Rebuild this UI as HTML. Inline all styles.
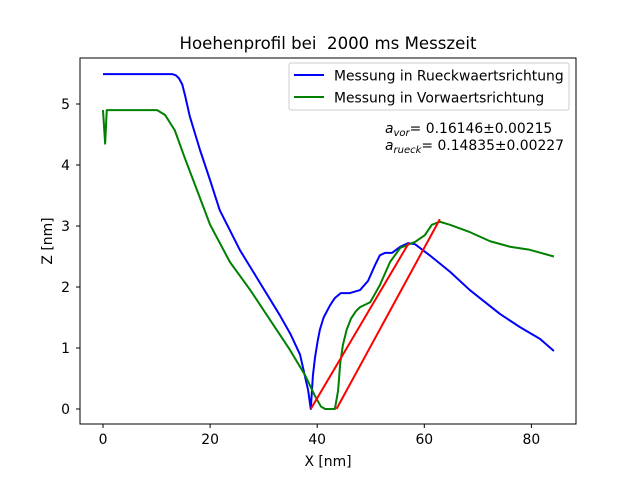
<!DOCTYPE html>
<html><head><meta charset="utf-8"><style>
body{margin:0;background:#fff;}
svg text{font-family:"DejaVu Sans","Liberation Sans",sans-serif;fill:#000;}
</style></head><body>
<svg id="chart" width="640" height="478" xmlns="http://www.w3.org/2000/svg">
<rect width="640" height="478" fill="#fff"/>
<text x="328" y="49" font-size="16.6" text-anchor="middle" xml:space="preserve">Hoehenprofil bei  2000 ms Messzeit</text>
<g id="plot"></g>
<rect x="80" y="58" width="496" height="366" fill="none" stroke="#000" stroke-width="1"/>
<g id="ticks"></g>
<text x="328" y="466" font-size="13.9" text-anchor="middle">X [nm]</text>
<text x="52" y="241" font-size="13.9" text-anchor="middle" transform="rotate(-90 52 241)">Z [nm]</text>
<g>
<rect x="289" y="63" width="280" height="47" rx="2" fill="#fff" fill-opacity="0.8" stroke="#ccc"/>
<line x1="294" y1="75" x2="324" y2="75" stroke="#0000ff" stroke-width="2"/>
<text x="334" y="80.5" font-size="13.9">Messung in Rueckwaertsrichtung</text>
<line x1="294" y1="97" x2="324" y2="97" stroke="#008000" stroke-width="2"/>
<text x="334" y="102.5" font-size="13.9">Messung in Vorwaertsrichtung</text>
</g>
<text x="385" y="133" font-size="13.9"><tspan font-style="italic">a</tspan><tspan font-style="italic" font-size="10" dy="3">vor</tspan><tspan dy="-3">= 0.16146±0.00215</tspan></text>
<text x="385" y="150" font-size="13.9"><tspan font-style="italic">a</tspan><tspan font-style="italic" font-size="10" dy="3">rueck</tspan><tspan dy="-3">= 0.14835±0.00227</tspan></text>
</svg>
<script>
const xTicks=[0,20,40,60,80];
const yTicks=[0,1,2,3,4,5];
const rueckX=[0,12.9,13.6,14.2,14.8,15.3,16.2,18.1,20,21.8,25.6,29.3,33,35,36.8,38.3,38.8,39.2,39.6,40.1,40.5,41.2,42.4,43.3,44.4,46.1,48,49.5,50.8,51.7,52.7,54,55.5,57,58.3,61,64.8,68.5,74.1,77.9,81.6,84.2];
const rueckZ=[5.49,5.49,5.47,5.42,5.32,5.15,4.8,4.25,3.75,3.26,2.6,2.07,1.54,1.23,0.89,0.31,0,0.55,0.85,1.12,1.3,1.5,1.7,1.82,1.9,1.9,1.95,2.1,2.36,2.52,2.56,2.56,2.66,2.72,2.7,2.52,2.25,1.95,1.56,1.34,1.15,0.95];
const vorX=[0,0.4,0.7,10.1,11.6,13.4,15.3,17.2,20,23.7,27.5,31.2,34.9,37.7,39.6,40.7,41.5,43.3,43.9,44.3,44.8,45.5,46.3,47.2,48,49.9,51.7,53.6,55.5,58.3,60.1,61.4,62.9,64.8,68.5,72.3,76,79.7,84.2];
const vorZ=[4.9,4.35,4.9,4.9,4.82,4.57,4.11,3.67,3.02,2.41,1.95,1.46,0.97,0.56,0.21,0.04,0,0,0.3,0.75,1.05,1.3,1.48,1.6,1.67,1.75,2.03,2.41,2.64,2.74,2.85,3.02,3.07,3.02,2.9,2.75,2.66,2.61,2.5];
const fitRueckX=[38.8,57.1];
const fitRueckZ=[0,2.72];
const fitVorX=[43.6,62.9];
const fitVorZ=[0,3.11];
const sx=v=>103+v*5.355;
const sy=v=>409-v*61;
const NS="http://www.w3.org/2000/svg";
const plot=document.getElementById('plot');
function line(xs,zs,color,name){
  const p=document.createElementNS(NS,'polyline');
  p.setAttribute('points',xs.map((x,i)=>sx(x)+','+sy(zs[i])).join(' '));
  p.setAttribute('fill','none');p.setAttribute('stroke',color);p.setAttribute('stroke-width','2');
  p.setAttribute('stroke-linejoin','round');
  
  
  plot.appendChild(p);
}
line(rueckX,rueckZ,'#0000ff','series-rueck');
line(vorX,vorZ,'#008000','series-vor');
line(fitRueckX,fitRueckZ,'#ff0000','fit-line-rueck');
line(fitVorX,fitVorZ,'#ff0000','fit-line-vor');
const tg=document.getElementById('ticks');
xTicks.forEach(v=>{
  const l=document.createElementNS(NS,'line');
  l.setAttribute('x1',sx(v));l.setAttribute('x2',sx(v));l.setAttribute('y1',424);l.setAttribute('y2',428);l.setAttribute('stroke','#000');
  
  
  tg.appendChild(l);
  const t=document.createElementNS(NS,'text');
  t.setAttribute('x',sx(v));t.setAttribute('y',444);t.setAttribute('font-size','13.9');t.setAttribute('text-anchor','middle');
  t.textContent=v;
  
  
  tg.appendChild(t);
});
yTicks.forEach(v=>{
  const l=document.createElementNS(NS,'line');
  l.setAttribute('x1',76);l.setAttribute('x2',80);l.setAttribute('y1',sy(v));l.setAttribute('y2',sy(v));l.setAttribute('stroke','#000');
  
  
  tg.appendChild(l);
  const t=document.createElementNS(NS,'text');
  t.setAttribute('x',70);t.setAttribute('y',sy(v)+5);t.setAttribute('font-size','13.9');t.setAttribute('text-anchor','end');
  t.textContent=v;
  
  
  tg.appendChild(t);
});
</script>
</body></html>
